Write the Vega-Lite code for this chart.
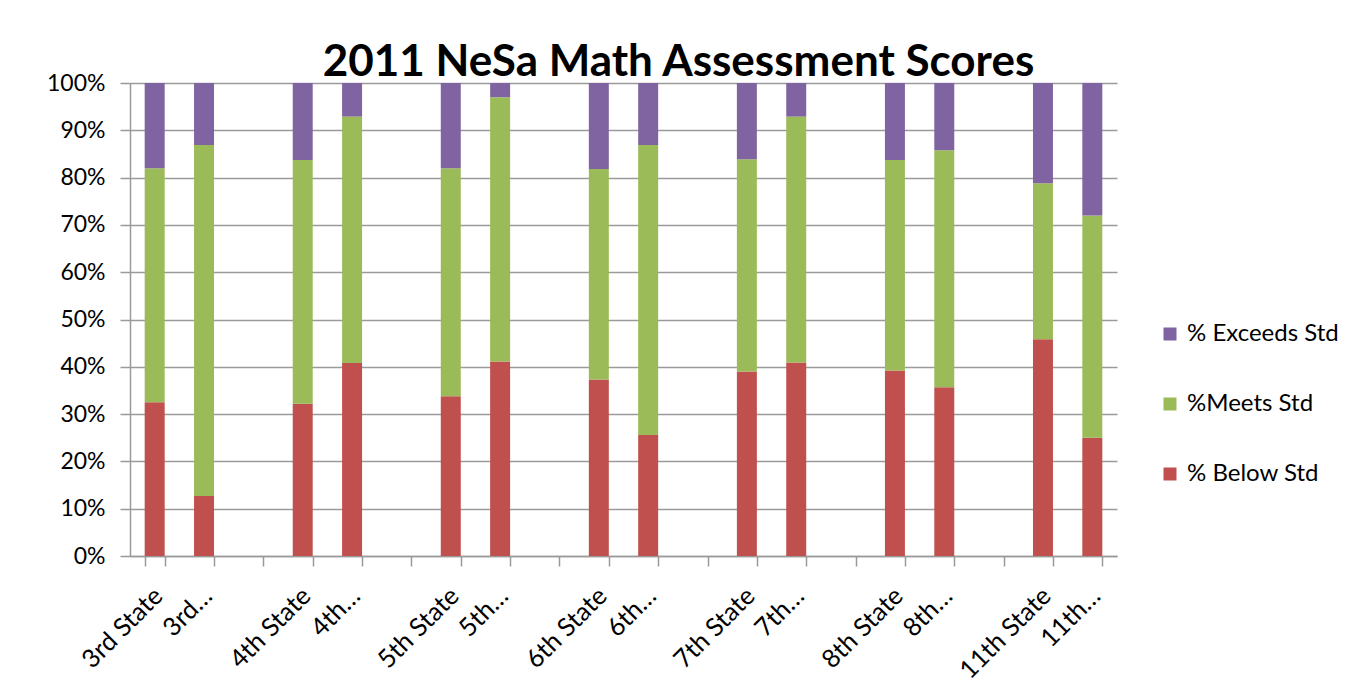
{
  "$schema": "https://vega.github.io/schema/vega-lite/v6.json",
  "width": 987,
  "height": 473,
  "autosize": {"type": "none"},
  "padding": {"left": 130, "top": 83, "right": 232, "bottom": 139},
  "background": "white",
  "title": {
    "text": "2011 NeSa Math Assessment Scores",
    "font": "Lato",
    "fontSize": 44,
    "fontWeight": "bold",
    "color": "#000000",
    "anchor": "middle",
    "dx": 55,
    "dy": 54,
    "offset": 6,
    "baseline": "alphabetic"
  },
  "data": {
    "values": [
      {"grade": "3rd State", "level": "% Below Std", "rank": 1, "pct": 32.5},
      {"grade": "3rd State", "level": "%Meets Std", "rank": 2, "pct": 49.5},
      {"grade": "3rd State", "level": "% Exceeds Std", "rank": 3, "pct": 18.0},
      {"grade": "3rd…", "level": "% Below Std", "rank": 1, "pct": 12.7},
      {"grade": "3rd…", "level": "%Meets Std", "rank": 2, "pct": 74.2},
      {"grade": "3rd…", "level": "% Exceeds Std", "rank": 3, "pct": 13.1},
      {"grade": "4th State", "level": "% Below Std", "rank": 1, "pct": 32.2},
      {"grade": "4th State", "level": "%Meets Std", "rank": 2, "pct": 51.5},
      {"grade": "4th State", "level": "% Exceeds Std", "rank": 3, "pct": 16.3},
      {"grade": "4th…", "level": "% Below Std", "rank": 1, "pct": 40.8},
      {"grade": "4th…", "level": "%Meets Std", "rank": 2, "pct": 52.1},
      {"grade": "4th…", "level": "% Exceeds Std", "rank": 3, "pct": 7.1},
      {"grade": "5th State", "level": "% Below Std", "rank": 1, "pct": 33.8},
      {"grade": "5th State", "level": "%Meets Std", "rank": 2, "pct": 48.2},
      {"grade": "5th State", "level": "% Exceeds Std", "rank": 3, "pct": 18.0},
      {"grade": "5th…", "level": "% Below Std", "rank": 1, "pct": 41.1},
      {"grade": "5th…", "level": "%Meets Std", "rank": 2, "pct": 55.9},
      {"grade": "5th…", "level": "% Exceeds Std", "rank": 3, "pct": 3.0},
      {"grade": "6th State", "level": "% Below Std", "rank": 1, "pct": 37.3},
      {"grade": "6th State", "level": "%Meets Std", "rank": 2, "pct": 44.5},
      {"grade": "6th State", "level": "% Exceeds Std", "rank": 3, "pct": 18.2},
      {"grade": "6th…", "level": "% Below Std", "rank": 1, "pct": 25.6},
      {"grade": "6th…", "level": "%Meets Std", "rank": 2, "pct": 61.3},
      {"grade": "6th…", "level": "% Exceeds Std", "rank": 3, "pct": 13.1},
      {"grade": "7th State", "level": "% Below Std", "rank": 1, "pct": 39.0},
      {"grade": "7th State", "level": "%Meets Std", "rank": 2, "pct": 44.9},
      {"grade": "7th State", "level": "% Exceeds Std", "rank": 3, "pct": 16.1},
      {"grade": "7th…", "level": "% Below Std", "rank": 1, "pct": 40.9},
      {"grade": "7th…", "level": "%Meets Std", "rank": 2, "pct": 52.0},
      {"grade": "7th…", "level": "% Exceeds Std", "rank": 3, "pct": 7.1},
      {"grade": "8th State", "level": "% Below Std", "rank": 1, "pct": 39.2},
      {"grade": "8th State", "level": "%Meets Std", "rank": 2, "pct": 44.5},
      {"grade": "8th State", "level": "% Exceeds Std", "rank": 3, "pct": 16.3},
      {"grade": "8th…", "level": "% Below Std", "rank": 1, "pct": 35.7},
      {"grade": "8th…", "level": "%Meets Std", "rank": 2, "pct": 50.1},
      {"grade": "8th…", "level": "% Exceeds Std", "rank": 3, "pct": 14.2},
      {"grade": "11th State", "level": "% Below Std", "rank": 1, "pct": 45.8},
      {"grade": "11th State", "level": "%Meets Std", "rank": 2, "pct": 33.0},
      {"grade": "11th State", "level": "% Exceeds Std", "rank": 3, "pct": 21.2},
      {"grade": "11th…", "level": "% Below Std", "rank": 1, "pct": 25.0},
      {"grade": "11th…", "level": "%Meets Std", "rank": 2, "pct": 47.0},
      {"grade": "11th…", "level": "% Exceeds Std", "rank": 3, "pct": 28.0}
    ]
  },
  "mark": {"type": "bar"},
  "encoding": {
    "x": {
      "field": "grade",
      "type": "nominal",
      "sort": null,
      "scale": {
        "domain": ["3rd State", "3rd…", "gap1", "4th State", "4th…", "gap2", "5th State", "5th…", "gap3", "6th State", "6th…", "gap4", "7th State", "7th…", "gap5", "8th State", "8th…", "gap6", "11th State", "11th…"],
        "paddingInner": 0.595,
        "paddingOuter": 0.2975
      },
      "axis": {
        "title": null,
        "labelExpr": "indexof(datum.label, 'gap') == 0 ? '' : datum.label",
        "labelAngle": -45,
        "labelOverlap": false,
        "labelFont": "Lato",
        "labelFontSize": 25.5,
        "labelColor": "#000000",
        "tickBand": "extent",
        "tickSize": 10,
        "tickWidth": 1.5,
        "tickColor": "#9a9a9a",
        "domainColor": "#9a9a9a",
        "domainWidth": 1.5,
        "labelPadding": 17,
        "labelOffset": -5,
        "grid": false
      }
    },
    "y": {
      "field": "pct",
      "type": "quantitative",
      "stack": "zero",
      "scale": {"domain": [0, 100], "nice": false},
      "axis": {
        "title": null,
        "values": [0, 10, 20, 30, 40, 50, 60, 70, 80, 90, 100],
        "labelExpr": "datum.value + '%'",
        "labelFont": "Lato",
        "labelFontSize": 23,
        "labelColor": "#000000",
        "tickSize": 10,
        "tickWidth": 1.5,
        "tickColor": "#9a9a9a",
        "labelPadding": 15,
        "grid": true,
        "gridColor": "#9a9a9a",
        "gridWidth": 1.5,
        "domainColor": "#9a9a9a",
        "domainWidth": 1.5
      }
    },
    "color": {
      "field": "level",
      "type": "nominal",
      "scale": {
        "domain": ["% Exceeds Std", "%Meets Std", "% Below Std"],
        "range": ["#8064A2", "#9BBB59", "#C0504D"]
      },
      "legend": {
        "title": null,
        "orient": "none",
        "legendX": 1028,
        "legendY": 239,
        "padding": 0,
        "symbolType": "square",
        "symbolSize": 169,
        "symbolStrokeWidth": 0,
        "labelFont": "Lato",
        "labelFontSize": 24,
        "labelColor": "#000000",
        "labelOffset": 5,
        "rowPadding": 46
      }
    },
    "order": {"field": "rank", "type": "quantitative"}
  },
  "config": {"view": {"stroke": null}}
}
